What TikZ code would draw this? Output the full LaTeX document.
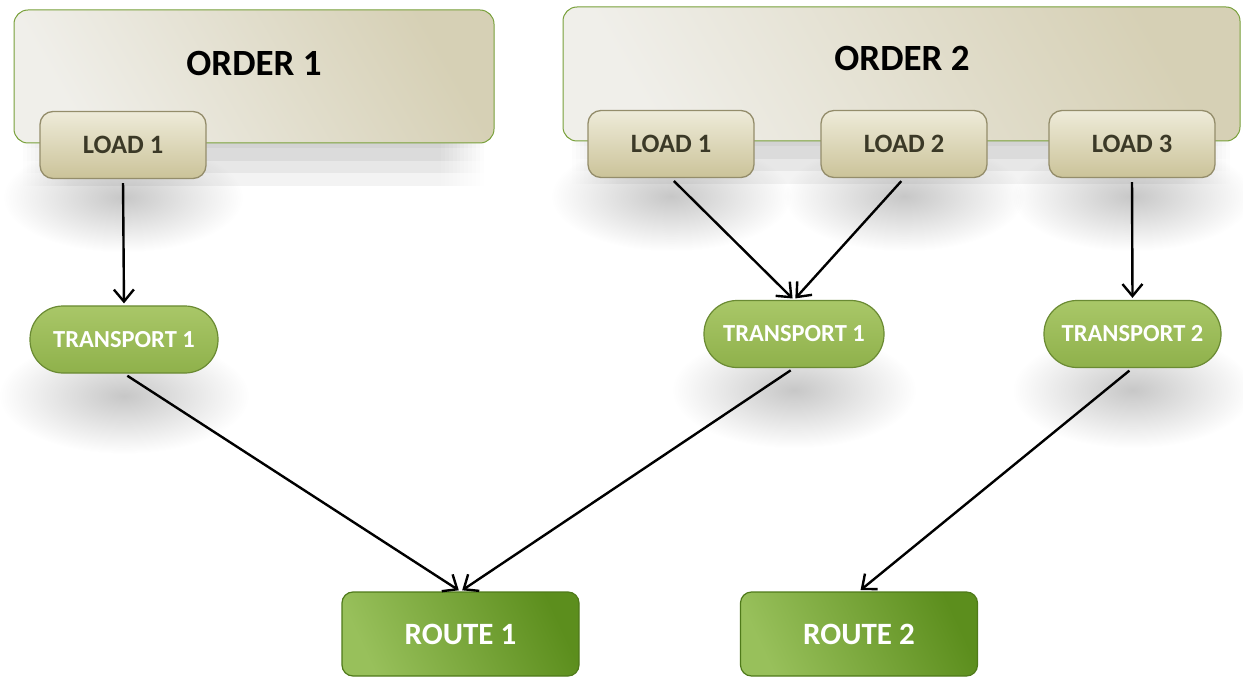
\documentclass[tikz,border=0pt]{standalone}
\usepackage{fontspec}
\setmainfont{Carlito}
\usetikzlibrary{arrows.meta,backgrounds,fadings}

\definecolor{orderedge}{HTML}{78A03A}
\definecolor{orderlight}{HTML}{F0EFEA}
\definecolor{ordermid}{HTML}{E3E0D1}
\definecolor{orderdark}{HTML}{D6D0B5}
\definecolor{loadtop}{HTML}{EEEBD9}
\definecolor{loadbot}{HTML}{CBC399}
\definecolor{loadedge}{HTML}{948D6B}
\definecolor{loadtext}{HTML}{3B3927}
\definecolor{transtop}{HTML}{A9C768}
\definecolor{transbot}{HTML}{8FB14B}
\definecolor{transedge}{HTML}{6A8A33}
\definecolor{routelight}{HTML}{98C05B}
\definecolor{routemid}{HTML}{72A42C}
\definecolor{routedark}{HTML}{5C8E1D}
\definecolor{routeedge}{HTML}{4F7A1A}

% radial fading: opaque centre, clear rim
\tikzfading[name=softblob, inner color=transparent!0, outer color=transparent!100]

\tikzset{
  orderbox/.style={draw=orderedge, line width=1pt, rounded corners=14pt,
    left color=orderlight, middle color=ordermid, right color=orderdark,
    shading angle=120},
  ordertext/.style={font=\bfseries\fontsize{37}{42}\selectfont, text=black},
  loadbox/.style={draw=loadedge, line width=1.3pt, rounded corners=13pt,
    top color=loadtop, bottom color=loadbot,
    minimum width=166pt, minimum height=67pt, inner sep=0pt,
    text=loadtext, font=\bfseries\fontsize{26.5}{30}\selectfont},
  transbox/.style={draw=transedge, line width=1.2pt, rounded corners=33pt,
    top color=transtop, bottom color=transbot,
    minimum height=67pt, inner sep=0pt,
    text=white, font=\bfseries\fontsize{24.5}{28}\selectfont},
  routebox/.style={draw=routeedge, line width=1.2pt, rounded corners=11pt,
    left color=routelight, middle color=routemid, right color=routedark,
    shading angle=115,
    minimum width=237pt, minimum height=84pt, inner sep=0pt,
    text=white, font=\bfseries\fontsize{31}{35}\selectfont},
  flow/.style={-{Straight Barb[length=12pt,width=20pt,line width=2.4pt]},
    line width=2.4pt, black, shorten <=4pt, shorten >=2pt},
  blob/.style={fill=black, fill opacity=0.22, path fading=softblob},
  band/.style={fill=black, fill opacity=0.014, path fading=south},
}

% round soft shadow under a node: #1 node, #2 half width, #3 half height,
% #4 drop of the centre below the lower edge
\newcommand\blobshade[4]{%
  \fill[blob] ([xshift=-#2, yshift=-#4+#3]#1.south) rectangle
              ([xshift=#2, yshift=-#4-#3]#1.south);}
% wide soft band under a box: #1 node, #2 depth
\newcommand\bandshade[2]{%
  \foreach \i in {0,...,11}{%
    \fill[band] ([xshift=10pt+\i*4pt, yshift=2pt]#1.south west) rectangle
                ([xshift=-10pt-\i*4pt, yshift=-#2]#1.south east);
  }}

\begin{document}
\begin{tikzpicture}[x=1pt, y=1pt]
  \useasboundingbox (0,0) rectangle (1243,-679);

  % orders
  \node[orderbox, minimum width=480pt, minimum height=133pt] (o1) at (254,-76.5) {};
  \node[ordertext] (o1t) at (254,-63) {ORDER 1};
  \node[orderbox, minimum width=677pt, minimum height=134pt] (o2) at (901.5,-74) {};
  \node[ordertext] (o2t) at (902,-58) {ORDER 2};

  % loads
  \node[loadbox] (l11) at (123,-145) {LOAD 1};
  \node[loadbox] (l21) at (671,-144) {LOAD 1};
  \node[loadbox] (l22) at (904,-144) {LOAD 2};
  \node[loadbox] (l23) at (1132,-144) {LOAD 3};

  % transports
  \node[transbox, minimum width=188pt] (t11) at (124,-339.5) {TRANSPORT 1};
  \node[transbox, minimum width=180pt] (t21) at (794,-334) {TRANSPORT 1};
  \node[transbox, minimum width=177pt] (t22) at (1132.5,-334) {TRANSPORT 2};

  % routes
  \node[routebox] (r1) at (460.5,-634) {ROUTE 1};
  \node[routebox] (r2) at (859,-634) {ROUTE 2};

  % soft shadows behind everything
  \begin{scope}[on background layer]
    \bandshade{o1}{48pt}
    \bandshade{o2}{48pt}
    \blobshade{l11}{120pt}{55pt}{18pt}
    \blobshade{l21}{120pt}{55pt}{18pt}
    \blobshade{l22}{120pt}{55pt}{18pt}
    \blobshade{l23}{120pt}{55pt}{18pt}
    \blobshade{t11}{125pt}{58pt}{22pt}
    \blobshade{t21}{122pt}{58pt}{22pt}
    \blobshade{t22}{120pt}{58pt}{22pt}
  \end{scope}

  % connectors
  \draw[flow] (l11.south) -- (t11.north);
  \draw[flow] (l21.south) -- (t21.north);
  \draw[flow] (l22.south) -- (t21.north);
  \draw[flow] (l23.south) -- (t22.north);
  \draw[flow] (t11.south) -- (r1.north);
  \draw[flow] (t21.south) -- (r1.north);
  \draw[flow] (t22.south) -- (r2.north);
\end{tikzpicture}
\end{document}
